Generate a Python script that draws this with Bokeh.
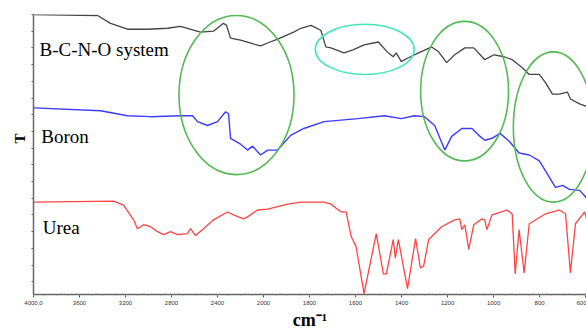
import numpy as np
from bokeh.plotting import figure
from bokeh.models import Range1d, FixedTicker, Label, Title
from bokeh.embed import file_html
from bokeh.resources import INLINE

# ---- data (wavenumber in cm-1, transmittance in arbitrary units) ----
bcno_wn = [4000, 3443, 3330, 3183, 3009, 2835, 2722, 2548, 2435, 2348, 2322, 2287, 2200, 2139,
           2087, 2026, 1982, 1939, 1869, 1838, 1794, 1751, 1729, 1707, 1650, 1611, 1563, 1501,
           1458, 1436, 1423, 1401, 1370, 1326, 1269, 1239, 1204, 1169, 1125, 1086, 1038, 998,
           954, 919, 876, 845, 801, 775, 744, 714, 679, 666, 626, 591]
bcno_t = [285, 284, 276, 270, 270, 271, 273, 267, 268, 276, 274, 261, 259, 257,
          255, 253, 256, 260, 267, 271, 274, 269, 252, 251, 246, 249, 254, 257,
          246, 242, 246, 237, 241, 246, 252, 247, 236, 244, 251, 251, 239, 244,
          242, 239, 231, 224, 224, 216, 204, 204, 206, 199, 194, 191]

boron_wn = [4000, 3417, 3183, 2983, 2722, 2617, 2574, 2487, 2400, 2330, 2304, 2287, 2200, 2139,
            2096, 2026, 1982, 1939, 1882, 1825, 1737, 1589, 1475, 1401, 1344, 1300, 1256, 1212,
            1182, 1138, 1094, 1064, 1038, 1007, 972, 932, 889, 845, 801, 775, 731, 700, 670,
            626, 591]
boron_t = [190, 187, 182, 181, 182, 182, 176, 172, 176, 186, 184, 159, 153, 147,
           151, 142, 147, 147, 162, 169, 176, 179, 182, 179, 182, 181, 172, 147,
           161, 169, 169, 162, 157, 159, 164, 156, 144, 142, 136, 126, 109, 111, 107,
           106, 97]

urea_wn = [4000, 3304, 3217, 3130, 3096, 3043, 2983, 2922, 2870, 2809, 2748, 2661, 2635, 2591,
           2522, 2435, 2313, 2261, 2174, 2139, 2052, 1982, 1895, 1838, 1737, 1707, 1663, 1641,
           1619, 1598, 1563, 1510, 1479, 1466, 1436, 1427, 1414, 1374, 1339, 1318, 1304, 1282,
           1226, 1169, 1147, 1138, 1125, 1108, 1086, 1051, 1038, 1029, 1007, 941, 919, 906,
           889, 867, 845, 775, 714, 687, 666, 644, 604, 586]
urea_t = [94, 95, 91, 76, 67, 71, 69, 64, 61, 64, 61, 62, 67, 60,
          67, 76, 84, 81, 77, 79, 86, 87, 92, 94, 94, 92, 84, 84,
          59, 49, 1, 62, 21, 21, 56, 37, 56, 6, 57, 27, 29, 56,
          69, 76, 77, 66, 71, 46, 71, 77, 76, 66, 81, 86, 82, 21,
          66, 22, 72, 82, 86, 82, 22, 72, 84, 69]

tick_wn = [4000, 3600, 3200, 2800, 2400, 2000, 1800, 1600, 1400, 1200, 1000, 800, 600]
tick_labels = ["4000,0", "3600", "3200", "2800", "2400", "2000", "1800", "1600",
               "1400", "1200", "1000", "800", "600"]

# highlighted regions (annotations): centre wavenumber, centre T, width (axis units), height
ring_wn = [2235, 1560, 1126, 740]
ring_t = [203, 249.5, 207, 170.5]
ring_w = [2.5, 2.15, 1.91, 1.74]
ring_h = [162, 51, 142, 153]
ring_colors = ["#55b955", "#45e6b9", "#55b955", "#55b955"]


def xpos(wn):
    """Instrument axis: 400 cm-1 per division above 2000, 200 cm-1 per division below."""
    wn = np.asarray(wn, dtype=float)
    return np.where(wn >= 2000, (4000 - wn) / 400.0, 5 + (2000 - wn) / 200.0)


p = figure(width=586, height=332, output_backend="svg", toolbar_location=None,
           x_range=Range1d(0, 12.02), y_range=Range1d(0, 285),
           min_border_left=33, min_border_right=0, min_border_top=14, min_border_bottom=33)
p.outline_line_color = None
p.xgrid.visible = False
p.ygrid.visible = False
p.background_fill_color = "white"

p.line(xpos(urea_wn), urea_t, line_color="#ff4444", line_width=1.3)
p.line(xpos(boron_wn), boron_t, line_color="#3b3bff", line_width=1.4)
p.line(xpos(bcno_wn), bcno_t, line_color="#444444", line_width=1.3)

for wn, t, w, h, c in zip(ring_wn, ring_t, ring_w, ring_h, ring_colors):
    p.ellipse(x=float(xpos(wn)), y=t, width=w, height=h, fill_color=None,
              line_color=c, line_width=1.6)

# x axis
tick_pos = [int(round(float(v))) for v in xpos(tick_wn)]
minor = [i * 0.25 for i in range(0, 49)]
p.xaxis.ticker = FixedTicker(ticks=tick_pos, minor_ticks=minor)
p.xaxis.major_label_overrides = {tp: lab for tp, lab in zip(tick_pos, tick_labels)}
p.xaxis.major_label_text_font = "Liberation Sans"
p.xaxis.major_label_text_font_size = "6px"
p.xaxis.major_label_text_color = "#333333"
p.xaxis.major_label_standoff = 3
p.xaxis.axis_line_color = "#666666"
p.xaxis.axis_line_width = 1.5
p.xaxis.major_tick_line_color = "#555555"
p.xaxis.minor_tick_line_color = "#888888"
p.xaxis.major_tick_in = 0
p.xaxis.major_tick_out = 3
p.xaxis.minor_tick_in = 0
p.xaxis.minor_tick_out = 1
p.xaxis.axis_label = "cm\u207b\u00b9"
p.xaxis.axis_label_text_font = "Liberation Serif"
p.xaxis.axis_label_text_font_style = "bold"
p.xaxis.axis_label_text_font_size = "18px"
p.xaxis.axis_label_text_color = "black"
p.xaxis.axis_label_standoff = 2

# y axis (unlabelled ticks)
y_ticks = [285 - 17 * k for k in range(17)]
p.yaxis.ticker = FixedTicker(ticks=y_ticks, minor_ticks=[])
p.yaxis.major_label_text_font_size = "0px"
p.yaxis.major_label_standoff = 0
p.yaxis.axis_line_color = "#666666"
p.yaxis.axis_line_width = 1.5
p.yaxis.major_tick_line_color = "#666666"
p.yaxis.major_tick_in = 0
p.yaxis.major_tick_out = 2

# y title "T", placed a little above the axis centre as in the original
p.add_layout(Title(text="T", align="right", offset=119, standoff=8,
                   text_font="Liberation Serif", text_font_style="bold",
                   text_font_size="15px", text_color="black"), "left")

# series names
names = ["B-C-N-O system", "Boron", "Urea"]
name_x = [0.13, 0.17, 0.2]
name_y = [249, 161, 68]
for n, x, y in zip(names, name_x, name_y):
    p.add_layout(Label(x=x, y=y, text=n, text_font="Liberation Serif",
                       text_font_size="19px", text_color="black",
                       text_baseline="alphabetic", text_align="left"))

open("out.html", "w").write(file_html(p, INLINE))
